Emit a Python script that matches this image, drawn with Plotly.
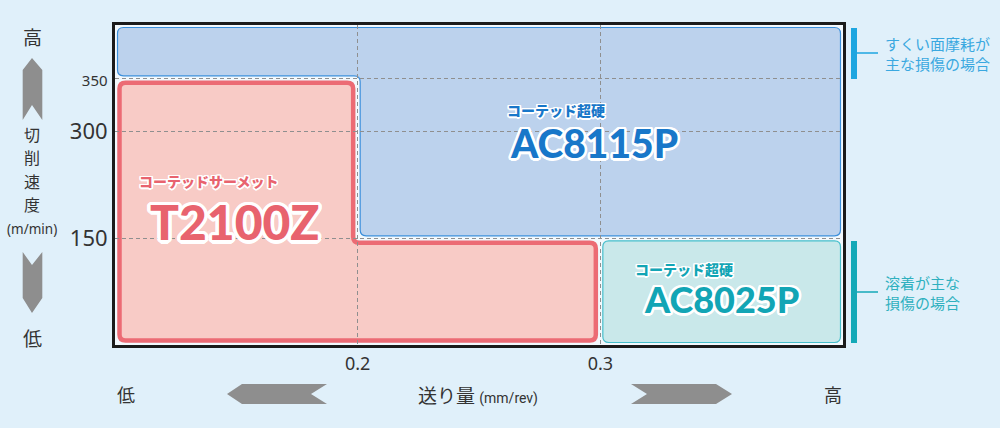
import numpy as np
import plotly.graph_objects as go

# ---------------- data ----------------
feed_range = [0.1, 0.4]                 # 送り量 (mm/rev)
feed_ticks = [0.2, 0.3]
feed_tick_labels = ["0.2", "0.3"]

speed_breaks = [0, 150, 300, 400]       # chart draws these speeds at equal steps
speed_ticks = [150, 300, 350]
speed_tick_labels = ["150", "300", "<span style='font-size:15px'>350</span>"]

ac8115p_feed = [0.1, 0.4, 0.4, 0.2, 0.2, 0.1]
ac8115p_speed = [400, 400, 150, 150, 350, 350]
t2100z_feed = [0.1, 0.2, 0.2, 0.3, 0.3, 0.1]
t2100z_speed = [350, 350, 150, 150, 0, 0]
ac8025p_feed = [0.3, 0.4, 0.4, 0.3]
ac8025p_speed = [150, 150, 0, 0]

grade_names = ["AC8115P", "T2100Z", "AC8025P"]
grade_types = ["コーテッド超硬", "コーテッドサーメット", "コーテッド超硬"]
notes = ["すくい面摩耗が<br>主な損傷の場合", "溶着が主な<br>損傷の場合"]

# ---------------- layout geometry ----------------
W, H = 1000, 428
X0, X1 = 115, 843
Y0, Y1 = 25, 345
BG = "#e0f0fa"
JP = "Noto Sans CJK JP"


def spos(v):
    return np.interp(v, speed_breaks, np.arange(len(speed_breaks)))


NY = len(speed_breaks) - 1
DX = (feed_range[1] - feed_range[0]) / (X1 - X0)
DY = NY / (Y1 - Y0)


def px(x):
    return (x - X0) / (X1 - X0)


def py(y):
    return (Y1 - y) / (Y1 - Y0)


def region_path(feeds, speeds, inset, r):
    xs = list(feeds)
    ys = [float(spos(s)) for s in speeds]
    n = len(xs)
    area = sum(xs[i] * ys[(i + 1) % n] - xs[(i + 1) % n] * ys[i] for i in range(n))
    sgn = 1 if area > 0 else -1
    edges = []
    for i in range(n):
        xa, ya, xb, yb = xs[i], ys[i], xs[(i + 1) % n], ys[(i + 1) % n]
        if abs(ya - yb) < 1e-12:
            d = np.sign(xb - xa)
            edges.append(("h", ya + d * sgn * inset * DY))
        else:
            d = np.sign(yb - ya)
            edges.append(("v", xa - d * sgn * inset * DX))
    pts = []
    for i in range(n):
        e1, e2 = edges[i - 1], edges[i]
        if e1[0] == "h":
            pts.append((e2[1], e1[1]))
        else:
            pts.append((e1[1], e2[1]))
    segs = []
    for i in range(n):
        p, c, q = pts[i - 1], pts[i], pts[(i + 1) % n]
        u = np.array([(c[0] - p[0]) / DX, (c[1] - p[1]) / DY])
        u = u / np.linalg.norm(u)
        v = np.array([(q[0] - c[0]) / DX, (q[1] - c[1]) / DY])
        v = v / np.linalg.norm(v)
        a = (c[0] - r * u[0] * DX, c[1] - r * u[1] * DY)
        b = (c[0] + r * v[0] * DX, c[1] + r * v[1] * DY)
        segs.append((a, c, b))
    path = ""
    for k, (a, c, b) in enumerate(segs):
        path += ("M" if k == 0 else "L") + f"{a[0]:.6f},{a[1]:.6f} "
        path += f"Q{c[0]:.6f},{c[1]:.6f} {b[0]:.6f},{b[1]:.6f} "
    return path + "Z"


def poly_paper(points):
    s = ""
    for k, (x, y) in enumerate(points):
        s += ("M" if k == 0 else "L") + f"{px(x):.5f},{py(y):.5f} "
    return s + "Z"


def outline(w, color="#ffffff"):
    offs = []
    for ang in np.linspace(0, 2 * np.pi, 16, endpoint=False):
        offs.append(f"{w*np.cos(ang):.2f}px {w*np.sin(ang):.2f}px 0 {color}")
    return ", ".join(offs)


fig = go.Figure()
fig.add_trace(go.Scatter(x=[feed_range[0]], y=[0], mode="markers",
                         marker=dict(opacity=0), hoverinfo="skip", showlegend=False))

shapes = []
# regions
shapes.append(dict(type="path", xref="x", yref="y", layer="below",
                   path=region_path(ac8115p_feed, ac8115p_speed, 2.5, 6),
                   fillcolor="#bcd2ed", line=dict(color="#3b8fdb", width=1.2)))
shapes.append(dict(type="path", xref="x", yref="y", layer="below",
                   path=region_path(t2100z_feed, t2100z_speed, 4.5, 6),
                   fillcolor="#f8cbc6", line=dict(color="#ec6b74", width=4.5)))
shapes.append(dict(type="path", xref="x", yref="y", layer="below",
                   path=region_path(ac8025p_feed, ac8025p_speed, 2.5, 6),
                   fillcolor="#c9e8ea", line=dict(color="#47bfcc", width=1.2)))

# arrows
ARROW = "#8e8e8e"
arrow_polys = [
    [(32, 58), (42.3, 70), (42.3, 120), (32, 105), (22.7, 120), (22.7, 70)],
    [(22.7, 252), (32, 265), (42.3, 252), (42.3, 298), (32, 313), (22.7, 298)],
    [(227, 394), (242, 384), (327, 384), (311, 394), (327, 404), (242, 404)],
    [(631, 384), (716, 384), (732, 394), (716, 404), (631, 404), (647, 394)],
]
for pts in arrow_polys:
    shapes.append(dict(type="path", xref="paper", yref="paper", path=poly_paper(pts),
                       fillcolor=ARROW, line=dict(width=0)))

# right side brackets
for (ya, yb, ym, col) in [(28, 79, 53, "#1ea6e0"), (241, 343, 292, "#14a9b7")]:
    shapes.append(dict(type="rect", xref="paper", yref="paper",
                       x0=px(851), x1=px(857), y0=py(yb), y1=py(ya),
                       fillcolor=col, line=dict(width=0)))
    shapes.append(dict(type="line", xref="paper", yref="paper",
                       x0=px(857), x1=px(878), y0=py(ym), y1=py(ym),
                       line=dict(color=col, width=1.5)))

ann = []


def text(x, y, t, size, color="#333333", family=JP, xanchor="center", weight=None,
         shadow=None, align="center"):
    f = dict(size=size, color=color, family=family)
    if weight is not None:
        f["weight"] = weight
    if shadow is not None:
        f["shadow"] = shadow
    ann.append(dict(x=px(x), y=py(y), xref="paper", yref="paper", text=t, showarrow=False,
                    xanchor=xanchor, yanchor="middle", font=f, align=align))


# left vertical axis title
text(32, 37, "高", 19)
for ch, yy in zip("切削速度", [134, 157.3, 180.6, 204]):
    text(32, yy, ch, 16)
text(32, 229, "(m/min)", 13.5, family="Noto Sans")
text(32, 337, "低", 19)

# bottom axis title
text(126, 394, "低", 18)
text(478, 394, "送り量 <span style='font-size:14px;font-family:Roboto'>(mm/rev)</span>", 19)
text(833, 394, "高", 18)

# grade labels
BLUE, PINK, TEAL = "#1877c9", "#e8636e", "#12a5b5"
text(556, 110, grade_types[0], 14, BLUE, weight=900, shadow=outline(1.5))
text(594, 143, grade_names[0], 39, BLUE, family="Lato", weight=900, shadow=outline(2.5))
text(208, 181, grade_types[1], 14, PINK, weight=900, shadow=outline(1.5))
text(235, 221, grade_names[1], 48, PINK, family="Lato", weight=900, shadow=outline(3.5))
text(684, 269, grade_types[2], 14, TEAL, weight=900, shadow=outline(1.5))
text(721, 299, grade_names[2], 36, TEAL, family="Lato", weight=900, shadow=outline(2.5))

# right notes
text(883, 53, notes[0], 15, "#3aa8e0", xanchor="left", align="left")
text(883, 292, notes[1], 15, "#2fb0bf", xanchor="left", align="left")

fig.update_layout(
    width=W, height=H, autosize=False,
    margin=dict(l=X0, r=W - X1, t=Y0, b=H - Y1, pad=0),
    paper_bgcolor=BG, plot_bgcolor="#f3f9fd",
    shapes=shapes, annotations=ann, showlegend=False,
    xaxis=dict(range=feed_range, tickvals=feed_ticks, ticktext=feed_tick_labels,
               showgrid=True, gridcolor="#8f8f8f", griddash="4px,3px", gridwidth=1,
               showline=True, mirror=True, linecolor="#1b1b1b", linewidth=3,
               zeroline=False, ticks="", tickfont=dict(size=18, color="#333", family="Noto Sans"),
               fixedrange=True),
    yaxis=dict(range=[0, NY], tickvals=spos(speed_ticks).tolist(), ticktext=speed_tick_labels,
               showgrid=True, gridcolor="#8f8f8f", griddash="4px,3px", gridwidth=1,
               showline=True, mirror=True, linecolor="#1b1b1b", linewidth=3,
               zeroline=False, ticks="", tickfont=dict(size=22, color="#333", family="Noto Sans"),
               fixedrange=True),
)

fig.write_html("out.html", config={"displayModeBar": False},
               post_script="document.body.style.margin='0';"
                           "document.body.style.background='" + BG + "';")
